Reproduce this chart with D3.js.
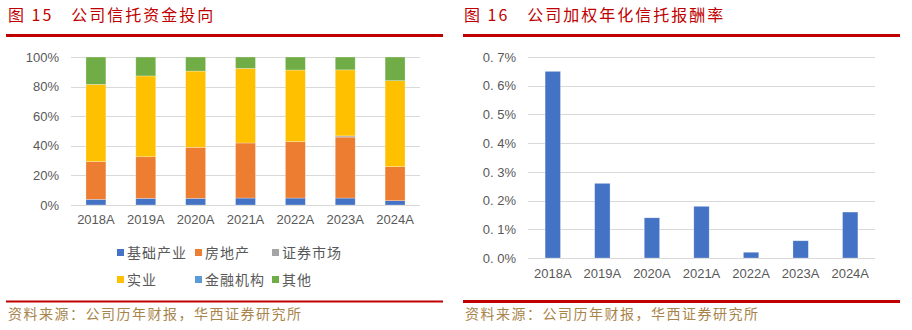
<!DOCTYPE html>
<html>
<head>
<meta charset="utf-8">
<script src="https://cdn.jsdelivr.net/npm/d3@7/dist/d3.min.js"></script>
<style>
  html, body { margin: 0; padding: 0; background: #fff; }
  svg { display: block; }
</style>
</head>
<body>
<svg id="c" width="912" height="330"></svg>
<script>
// ---------- DATA ----------
const years = ["2018A", "2019A", "2020A", "2021A", "2022A", "2023A", "2024A"];

// 公司信托资金投向 (percent of total)
const seriesNames = ["基础产业", "房地产", "证券市场", "实业", "金融机构", "其他"];
const infra    = [3.8, 4.5, 4.5, 4.7, 4.7, 4.7, 2.9];
const estate   = [25.5, 28.1, 34.5, 37.2, 38.1, 41.2, 23.0];
const security = [0.0, 0.0, 0.0, 0.0, 0.0, 0.8, 0.0];
const industry = [52.2, 54.6, 51.5, 50.4, 48.4, 44.6, 58.1];
const finance  = [0.0, 0.0, 0.0, 0.0, 0.0, 0.0, 0.0];
const others   = [18.5, 12.8, 9.5, 7.7, 8.8, 8.7, 16.0];
const seriesColors = ["#4472C4", "#ED7D31", "#A5A5A5", "#FFC000", "#5B9BD5", "#70AD47"];
const leftTicks = [0, 20, 40, 60, 80, 100];

// 公司加权年化信托报酬率 (%)
const feeRate = [0.65, 0.26, 0.14, 0.18, 0.02, 0.06, 0.16];
const rightTicks = [0, 0.1, 0.2, 0.3, 0.4, 0.5, 0.6, 0.7];

const titleLeft = "图 15　公司信托资金投向";
const titleRight = "图 16　公司加权年化信托报酬率";
const sourceText = "资料来源：公司历年财报，华西证券研究所";

// ---------- STYLE ----------
const RED = "#C00000";
const GRID = "#D9D9D9";
const TICK = "#595959";
const SRC = "#A8844B";
const latin = "'Liberation Sans', Arial, sans-serif";
const cjk = "'Noto Sans CJK SC', sans-serif";

const svg = d3.select("#c");

// ---------- Titles & rules ----------
function header(x, text, x0, x1) {
  svg.append("text").attr("x", x).attr("y", 21)
    .attr("font-family", cjk).attr("font-size", 16).attr("letter-spacing", 2)
    .attr("fill", RED).text(text);
  svg.append("rect").attr("x", x0).attr("y", 34).attr("width", x1 - x0).attr("height", 3).attr("fill", RED);
}
header(8, titleLeft, 6, 443);
header(464, titleRight, 463, 900);

// bottom rules
svg.append("rect").attr("x", 6).attr("y", 300.5).attr("width", 437).attr("height", 2).attr("fill", RED);
svg.append("rect").attr("x", 463).attr("y", 300).attr("width", 437).attr("height", 3).attr("fill", RED);

function source(x) {
  svg.append("text").attr("x", x).attr("y", 319)
    .attr("font-family", cjk).attr("font-size", 14).attr("letter-spacing", 1.5)
    .attr("fill", SRC).text(sourceText);
}
source(8);
source(465);

// ---------- Left chart: stacked 100% ----------
{
  const x0 = 71, x1 = 420, yTop = 57, yBot = 205;
  const x = d3.scaleBand().domain(years).range([x0, x1]).paddingInner(0.6).paddingOuter(0.3);
  const y = d3.scaleLinear().domain([0, 100]).range([yBot, yTop]);
  const g = svg.append("g");

  g.append("g").selectAll("line").data(leftTicks).join("line")
    .attr("x1", x0).attr("x2", x1)
    .attr("y1", d => Math.round(y(d)) + 0.5).attr("y2", d => Math.round(y(d)) + 0.5)
    .attr("stroke", GRID).attr("stroke-width", 1);

  const yAxis = d3.axisLeft(y).tickValues(leftTicks).tickSize(0).tickPadding(12).tickFormat(d => d + "%");
  const ya = g.append("g").attr("transform", `translate(${x0},0)`).call(yAxis);
  ya.select(".domain").remove();
  ya.selectAll("text").attr("font-family", latin).attr("font-size", 13).attr("fill", TICK);

  const rows = years.map((yr, i) => ({
    year: yr,
    "基础产业": infra[i], "房地产": estate[i], "证券市场": security[i],
    "实业": industry[i], "金融机构": finance[i], "其他": others[i]
  }));
  const stacked = d3.stack().keys(seriesNames)(rows);

  g.append("g").selectAll("g").data(stacked).join("g")
    .attr("fill", (d, i) => seriesColors[i])
    .selectAll("rect").data(d => d).join("rect")
    .attr("x", d => x(d.data.year))
    .attr("width", x.bandwidth())
    .attr("y", d => y(d[1]))
    .attr("height", d => Math.max(0, y(d[0]) - y(d[1])))
    .attr("stroke", "rgba(255,255,255,0.45)").attr("stroke-width", 0.6);

  const xAxis = d3.axisBottom(x).tickSize(0).tickPadding(10);
  const xa = g.append("g").attr("transform", `translate(0,${yBot})`).call(xAxis);
  xa.select(".domain").remove();
  xa.selectAll("text").attr("font-family", latin).attr("font-size", 13).attr("fill", TICK);

  // legend
  const cols = [117, 195, 272];
  const rowsY = [253, 280];
  const leg = g.append("g");
  seriesNames.forEach((name, i) => {
    const cx = cols[i % 3], cy = rowsY[Math.floor(i / 3)];
    leg.append("rect").attr("x", cx).attr("y", cy - 4).attr("width", 7).attr("height", 7).attr("fill", seriesColors[i]);
    leg.append("text").attr("x", cx + 10).attr("y", cy + 5)
      .attr("font-family", cjk).attr("font-size", 14).attr("letter-spacing", 1)
      .attr("fill", TICK).text(name);
  });
}

// ---------- Right chart: bars ----------
{
  const x0 = 528, x1 = 875, yTop = 57, yBot = 258;
  const x = d3.scaleBand().domain(years).range([x0, x1]).paddingInner(0.69).paddingOuter(0.345);
  const y = d3.scaleLinear().domain([0, 0.7]).range([yBot, yTop]);
  const g = svg.append("g");

  g.append("g").selectAll("line").data(rightTicks).join("line")
    .attr("x1", x0).attr("x2", x1)
    .attr("y1", d => Math.round(y(d)) + 0.5).attr("y2", d => Math.round(y(d)) + 0.5)
    .attr("stroke", GRID).attr("stroke-width", 1);

  const yAxis = d3.axisLeft(y).tickValues(rightTicks).tickSize(0).tickPadding(12)
    .tickFormat(d => d3.format(".1f")(d).replace(".", ". ") + "%");
  const ya = g.append("g").attr("transform", `translate(${x0},0)`).call(yAxis);
  ya.select(".domain").remove();
  ya.selectAll("text").attr("font-family", latin).attr("font-size", 13).attr("fill", TICK).attr("xml:space", "preserve");

  g.append("g").selectAll("rect").data(feeRate).join("rect")
    .attr("x", (d, i) => x(years[i]))
    .attr("width", x.bandwidth())
    .attr("y", d => y(d))
    .attr("height", d => yBot - y(d))
    .attr("fill", "#4472C4")
    .attr("stroke", "rgba(255,255,255,0.45)").attr("stroke-width", 0.6);

  const xAxis = d3.axisBottom(x).tickSize(0).tickPadding(11);
  const xa = g.append("g").attr("transform", `translate(0,${yBot})`).call(xAxis);
  xa.select(".domain").remove();
  xa.selectAll("text").attr("font-family", latin).attr("font-size", 13).attr("fill", TICK);
}
</script>
</body>
</html>
